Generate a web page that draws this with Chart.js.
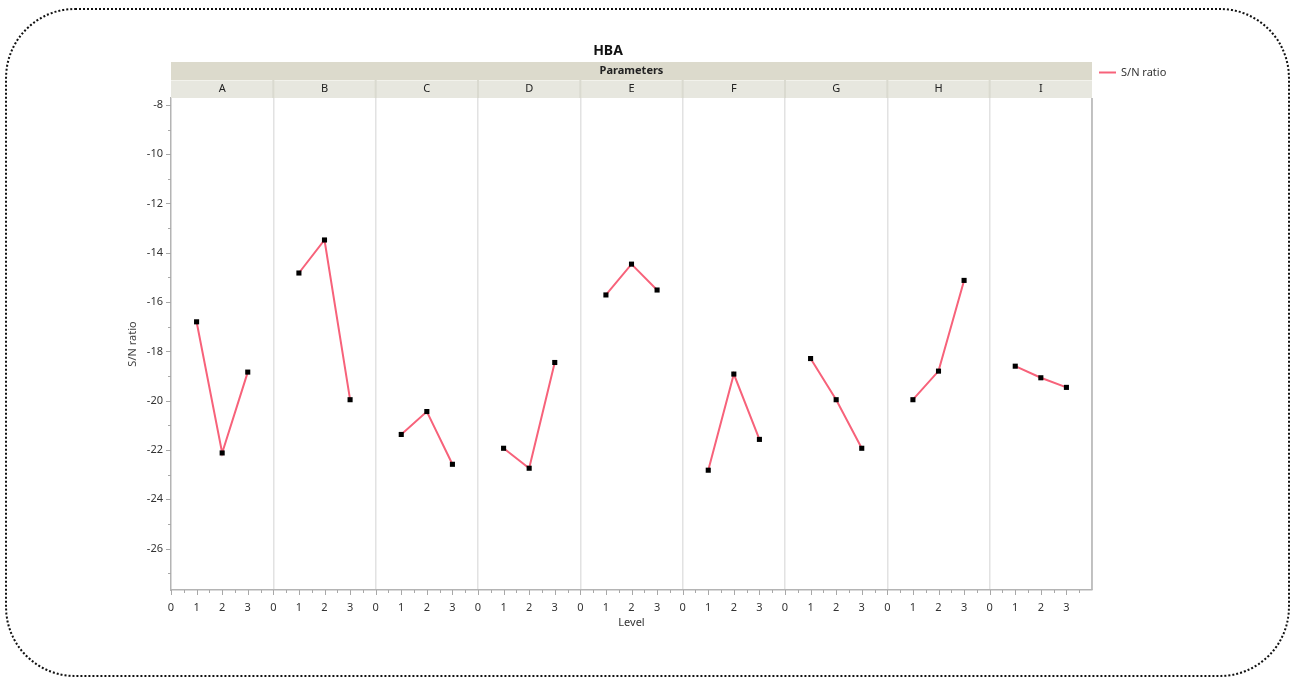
<!DOCTYPE html>
<html>
<head>
<meta charset="utf-8">
<title>HBA</title>
<script src="https://cdn.jsdelivr.net/npm/chart.js@4.4.1/dist/chart.umd.min.js"></script>
<style>
  html, body { margin: 0; padding: 0; background: #fff; }
  #wrap { position: relative; width: 1290px; height: 678px; }
  #frame {
    position: absolute; left: 5px; top: 8px; width: 1285px; height: 669px;
    border: 2.5px dotted #111; border-radius: 70px; box-sizing: border-box;
  }
  #chart { position: absolute; left: 0; top: 0; }
</style>
</head>
<body>
<div id="wrap">
  <div id="frame"></div>
  <canvas id="chart" width="1290" height="678"></canvas>
</div>
<script>
// S/N ratio per parameter at levels 1..3
const params = ['A', 'B', 'C', 'D', 'E', 'F', 'G', 'H', 'I'];
const levels = [1, 2, 3];
const snA = [-16.80, -22.12, -18.84];
const snB = [-14.82, -13.48, -19.96];
const snC = [-21.37, -20.44, -22.58];
const snD = [-21.93, -22.74, -18.45];
const snE = [-15.71, -14.46, -15.51];
const snF = [-22.82, -18.92, -21.57];
const snG = [-18.29, -19.96, -21.93];
const snH = [-19.96, -18.80, -15.12];
const snI = [-18.60, -19.07, -19.46];
const series = [snA, snB, snC, snD, snE, snF, snG, snH, snI];

const xTickLabels = ['0', '1', '2', '3'];
const yMin = -27.68, yMax = -7.72;

const PANEL = 4;               // x units per parameter panel
const lineColor = '#f7627a';
const font = "'Noto Sans', 'Open Sans', sans-serif";

// each panel gets its own x range; a null point breaks the line between panels
const points = [];
series.forEach((vals, p) => {
  levels.forEach((lv, i) => points.push({ x: p * PANEL + lv, y: vals[i] }));
  points.push({ x: p * PANEL + 3.5, y: null });
});

// header strips, title, legend and the short tick marks
const decor = {
  id: 'decor',
  afterDraw(chart) {
    const { ctx, chartArea: a, scales: { x, y } } = chart;
    ctx.save();

    // title
    ctx.fillStyle = '#111';
    ctx.font = "bold 14px " + font;
    ctx.textAlign = 'center';
    ctx.textBaseline = 'middle';
    ctx.fillText('HBA', 608, 51);

    // "Parameters" strip
    ctx.fillStyle = '#dcdacc';
    ctx.fillRect(a.left, 62, a.right - a.left, 18);
    ctx.fillStyle = '#222';
    ctx.font = "bold 11px " + font;
    ctx.fillText('Parameters', (a.left + a.right) / 2, 71);

    // letter strip
    ctx.fillStyle = '#e7e7df';
    ctx.fillRect(a.left, 80, a.right - a.left, a.top - 80);
    ctx.fillStyle = '#f2f2ec';
    ctx.fillRect(a.left, 80, a.right - a.left, 1);
    ctx.font = "11px " + font;
    ctx.fillStyle = '#222';
    params.forEach((p, i) => {
      const x0 = x.getPixelForValue(i * PANEL);
      const x1 = x.getPixelForValue((i + 1) * PANEL);
      if (i > 0) {
        ctx.fillStyle = '#dadad0';
        ctx.fillRect(x0 - 1, 80, 2, a.top - 80);
        ctx.fillStyle = '#222';
      }
      ctx.fillText(p, (x0 + x1) / 2, 89);
    });

    // right frame of the plot
    ctx.strokeStyle = '#b4b4b4';
    ctx.lineWidth = 1.5;
    ctx.beginPath();
    ctx.moveTo(a.right, a.top);
    ctx.lineTo(a.right, a.bottom);
    ctx.stroke();

    // tick marks, short ones at the half steps
    ctx.strokeStyle = '#a8a8a8';
    ctx.lineWidth = 1;
    ctx.beginPath();
    x.ticks.forEach(t => {
      if (t.value >= 36) return;
      const px = Math.round(x.getPixelForValue(t.value)) + 0.5;
      const len = Number.isInteger(t.value) ? 5 : 3;
      ctx.moveTo(px, a.bottom);
      ctx.lineTo(px, a.bottom + len);
    });
    y.ticks.forEach(t => {
      const py = Math.round(y.getPixelForValue(t.value)) + 0.5;
      const len = t.value % 2 === 0 ? 5 : 3;
      ctx.moveTo(a.left, py);
      ctx.lineTo(a.left - len, py);
    });
    ctx.stroke();

    // legend
    ctx.strokeStyle = lineColor;
    ctx.lineWidth = 2;
    ctx.beginPath();
    ctx.moveTo(1099, 72.5);
    ctx.lineTo(1116, 72.5);
    ctx.stroke();
    ctx.fillStyle = '#333';
    ctx.font = "11px " + font;
    ctx.textAlign = 'left';
    ctx.fillText('S/N ratio', 1121, 72.5);

    ctx.restore();
  }
};

new Chart(document.getElementById('chart'), {
  type: 'line',
  data: {
    datasets: [{
      label: 'S/N ratio',
      data: points,
      borderColor: lineColor,
      borderWidth: 2,
      spanGaps: false,
      pointStyle: 'rect',
      pointRadius: 3.6,
      pointBackgroundColor: '#000',
      pointBorderColor: '#000',
      pointBorderWidth: 0
    }]
  },
  options: {
    responsive: false,
    animation: false,
    layout: { padding: { left: 122, right: 198, top: 98, bottom: 45 } },
    plugins: { legend: { display: false }, tooltip: { enabled: false } },
    scales: {
      x: {
        type: 'linear',
        min: 0,
        max: params.length * PANEL,
        afterFit: s => { s.height = 43; },
        border: { display: true, color: '#b4b4b4', width: 1.5 },
        grid: {
          drawTicks: false,
          color: c => (c.tick && c.tick.value % PANEL === 0 && c.tick.value > 0) ? '#e2e2e2' : 'rgba(0,0,0,0)',
          lineWidth: 1.5
        },
        ticks: {
          stepSize: 0.5,
          maxTicksLimit: 200,
          autoSkip: false,
          maxRotation: 0,
          padding: 11,
          color: '#333',
          font: { family: font, size: 11 },
          callback: v => (Number.isInteger(v) && v < params.length * PANEL) ? xTickLabels[v % PANEL] : ''
        },
        title: { display: true, text: 'Level', color: '#333', font: { family: font, size: 11 }, padding: 4 }
      },
      y: {
        min: yMin,
        max: yMax,
        afterFit: s => { s.width = 49; },
        border: { display: true, color: '#b4b4b4', width: 1.5 },
        grid: { display: false, drawTicks: false },
        ticks: {
          stepSize: 1,
          includeBounds: false,
          autoSkip: false,
          padding: 8,
          color: '#333',
          font: { family: font, size: 11 },
          callback: v => (Math.abs(v % 2) < 1e-6 ? String(Math.round(v)) : '')
        },
        title: { display: true, text: 'S/N ratio', color: '#444', font: { family: font, size: 11 }, padding: 4 }
      }
    }
  },
  plugins: [decor]
});
</script>
</body>
</html>
